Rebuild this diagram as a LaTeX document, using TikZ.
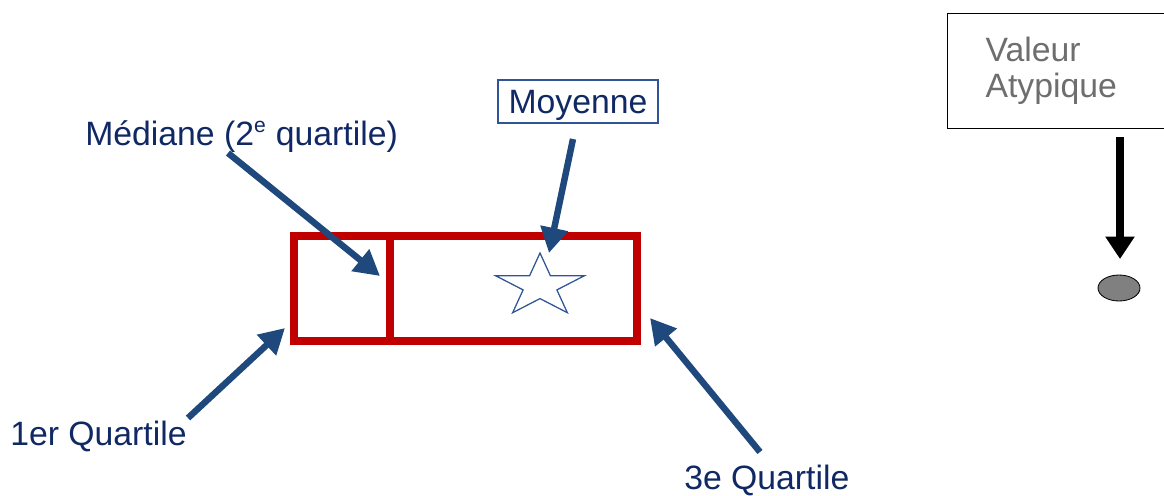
\documentclass[tikz,border=0pt]{standalone}
\usepackage{fontspec}
\setmainfont{Liberation Sans}
\usepackage{tikz}
\usetikzlibrary{arrows.meta,positioning,calc,shapes.geometric}

\definecolor{navytext}{RGB}{16,40,100}
\definecolor{arrowblue}{RGB}{31,73,125}
\definecolor{starblue}{RGB}{47,85,151}
\definecolor{boxred}{RGB}{192,0,0}
\definecolor{atypgray}{RGB}{110,110,110}

\begin{document}
\begin{tikzpicture}[
  x=0.025cm, y=-0.025cm,
  every node/.style={inner sep=0pt},
  lbl/.style={font=\fontsize{24}{23}\selectfont, text=navytext},
  pointer/.style={-{Triangle[length=18pt,width=19pt]}, arrowblue, line width=4.6pt},
  quartbox/.style={draw=boxred, line width=5.7pt}
]

\useasboundingbox (0,0) rectangle (1164,495);

% the box: first quartile, median, third quartile
\draw[quartbox] (294,236) rectangle (637,341);
\draw[quartbox] (390,236) -- (390,341);

% mean as a star (y axis points down, so angles are negated)
\draw[starblue, line width=0.9pt, shift={(540,286)}, xscale=1.41]
  (-90:33) -- (-126:12.6) -- (-162:33) -- (-198:12.6) -- (-234:33)
  -- (-270:12.6) -- (-306:33) -- (-342:12.6) -- (-18:33) -- (-54:12.6) -- cycle;

% labels
\node[lbl, anchor=base west] (mediane) at (85,145)
     {Médiane (2\textsuperscript{\fontsize{15}{15}\selectfont e} quartile)};
\node[lbl, draw=starblue, line width=0.8pt, minimum width=4cm,
      minimum height=1.075cm, text height=17pt, text depth=0pt]
     (moyenne) at (578,101.5) {Moyenne};
\node[lbl, anchor=base west] (q1) at (10,445) {1er Quartile};
\node[lbl, anchor=base west] (q3) at (684,489) {3e Quartile};
\node[lbl, font=\fontsize{24}{25.5}\selectfont, text=atypgray, draw=black,
      line width=0.8pt, anchor=north west,
      minimum width=6cm, minimum height=2.875cm, align=left,
      text width=4.1cm, inner xsep=0.95cm] (atyp) at (947,13)
     {Valeur\\Atypique};

% outlier point
\node[ellipse, draw=black, line width=0.6pt, fill={rgb,255:red,128;green,128;blue,128},
      minimum width=1.05cm, minimum height=0.65cm] (outlier) at (1119,288) {};

% arrow ends
\coordinate (medtail) at (228,153);
\coordinate (medtip)  at (380,276);
\coordinate (moytail) at (573,139);
\coordinate (moytip)  at (549,253);
\coordinate (q1tail)  at (188,418);
\coordinate (q1tip)   at (285,328);
\coordinate (q3tail)  at (760,452);
\coordinate (q3tip)   at (650,318);
\coordinate (atyptail) at (1120,137);
\coordinate (atyptip)  at (1120,259);

\draw[pointer] (medtail) -- (medtip);
\draw[pointer] (moytail) -- (moytip);
\draw[pointer] (q1tail) -- (q1tip);
\draw[pointer] (q3tail) -- (q3tip);
\draw[-{Triangle[length=16pt,width=20pt]}, black, line width=5pt]
      (atyptail) -- (atyptip);

\end{tikzpicture}
\end{document}
